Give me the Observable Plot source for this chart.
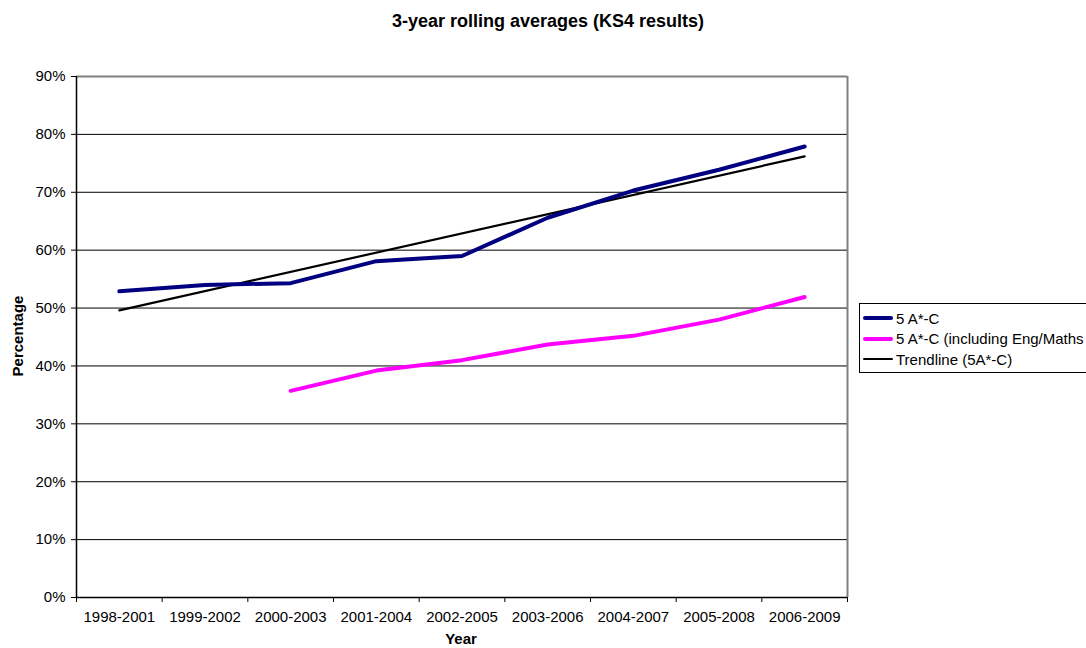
<!DOCTYPE html>
<html>
<head>
<meta charset="utf-8">
<script src="https://cdn.jsdelivr.net/npm/d3@7"></script>
<script src="https://cdn.jsdelivr.net/npm/@observablehq/plot@0.6"></script>
<style>
  html, body { margin: 0; padding: 0; background: #fff; }
  #wrap { position: relative; width: 1086px; height: 648px; overflow: hidden; font-family: "Liberation Sans", Arial, sans-serif; color: #000; }
  #chart { position: absolute; left: 0; top: 0; }
  .title { position: absolute; left: 0; width: 1096px; top: 11px; text-align: center; font-weight: bold; font-size: 18px; }
  .ylab { position: absolute; left: 17px; top: 336px; transform: translate(-50%, -50%) rotate(-90deg); font-weight: bold; font-size: 15px; white-space: nowrap; }
  .xlab { position: absolute; left: 461px; top: 631px; transform: translateX(-50%); font-weight: bold; font-size: 15px; line-height: 16px; }
  .legend { position: absolute; left: 859px; top: 303px; width: 300px; height: 68px; border: 1px solid #000; background: #fff; }
  .row { position: absolute; left: 3px; height: 20px; display: flex; align-items: center; font-size: 15px; white-space: nowrap; }
  .sw { width: 30px; margin-right: 3px; }
</style>
</head>
<body>
<div id="wrap">
  <div id="chart"></div>
  <div class="title">3-year rolling averages (KS4 results)</div>
  <div class="ylab">Percentage</div>
  <div class="xlab">Year</div>
  <div class="legend" id="legend"></div>
</div>
<script>
// ---- data ----
const categories = ["1998-2001", "1999-2002", "2000-2003", "2001-2004", "2002-2005", "2003-2006", "2004-2007", "2005-2008", "2006-2009"];
const fiveAC = [52.9, 54.0, 54.3, 58.1, 59.0, 65.6, 70.3, 73.9, 77.9];
const fiveACEngMaths = [null, null, 35.7, 39.2, 41.0, 43.7, 45.2, 48.0, 51.9];
const trendCategories = ["1998-2001", "2006-2009"];
const trendValues = [49.6, 76.2];
const yTicks = [0, 10, 20, 30, 40, 50, 60, 70, 80, 90];
const seriesNames = ["5 A*-C", "5 A*-C (including Eng/Maths", "Trendline (5A*-C)"];
const seriesColors = ["#000080", "#FF00FF", "#000000"];

const idx = c => categories.indexOf(c);
const blueData = categories.map((c, i) => ({i: idx(c), v: fiveAC[i]}));
const pinkData = categories.map((c, i) => ({i: idx(c), v: fiveACEngMaths[i]}));
const trendData = trendCategories.map((c, k) => ({i: idx(c), v: trendValues[k]}));
const n = categories.length;
const bandEdges = d3.range(0, n + 1).map(k => k - 0.5);

const chart = Plot.plot({
  width: 1086,
  height: 648,
  marginLeft: 76,
  marginRight: 239,
  marginTop: 76,
  marginBottom: 51,
  style: {fontFamily: "'Liberation Sans', Arial, sans-serif", fontSize: "15px", color: "#000", background: "transparent"},
  x: {type: "linear", domain: [-0.5, n - 0.5]},
  y: {type: "linear", domain: [0, 90]},
  marks: [
    Plot.ruleY(yTicks.filter(t => t > 0 && t < 90), {stroke: "#000", strokeWidth: 1}),
    Plot.ruleY([90], {stroke: "#808080", strokeWidth: 2}),
    Plot.ruleX([n - 0.5], {stroke: "#808080", strokeWidth: 2}),
    Plot.ruleX([-0.5], {stroke: "#000", strokeWidth: 1.5}),
    Plot.ruleY([0], {stroke: "#000", strokeWidth: 1.5}),
    Plot.axisY(yTicks, {tickSize: 5, tickPadding: 6, tickFormat: d => d + "%", label: null, fontSize: 15}),
    Plot.axisX(bandEdges, {tickSize: 5, tickFormat: () => "", label: null}),
    Plot.axisX(d3.range(n), {tickSize: 0, tickPadding: 14, tickFormat: i => categories[i], label: null, fontSize: 15}),
    Plot.line(trendData, {x: "i", y: "v", stroke: seriesColors[2], strokeWidth: 2.2}),
    Plot.line(blueData, {x: "i", y: "v", stroke: seriesColors[0], strokeWidth: 4, strokeLinecap: "round"}),
    Plot.line(pinkData, {x: "i", y: "v", stroke: seriesColors[1], strokeWidth: 4, strokeLinecap: "round"})
  ]
});
document.getElementById("chart").appendChild(chart);

const legend = document.getElementById("legend");
const rowTops = [4, 24.5, 45];
const swH = [4, 4, 2.5];
seriesNames.forEach((name, k) => {
  const r = document.createElement("div");
  r.className = "row";
  r.style.top = rowTops[k] + "px";
  const s = document.createElement("div");
  s.className = "sw";
  s.style.height = swH[k] + "px";
  s.style.background = seriesColors[k];
  s.style.borderRadius = "2px";
  r.appendChild(s);
  const t = document.createElement("span");
  t.textContent = name;
  r.appendChild(t);
  legend.appendChild(r);
});
</script>
</body>
</html>
